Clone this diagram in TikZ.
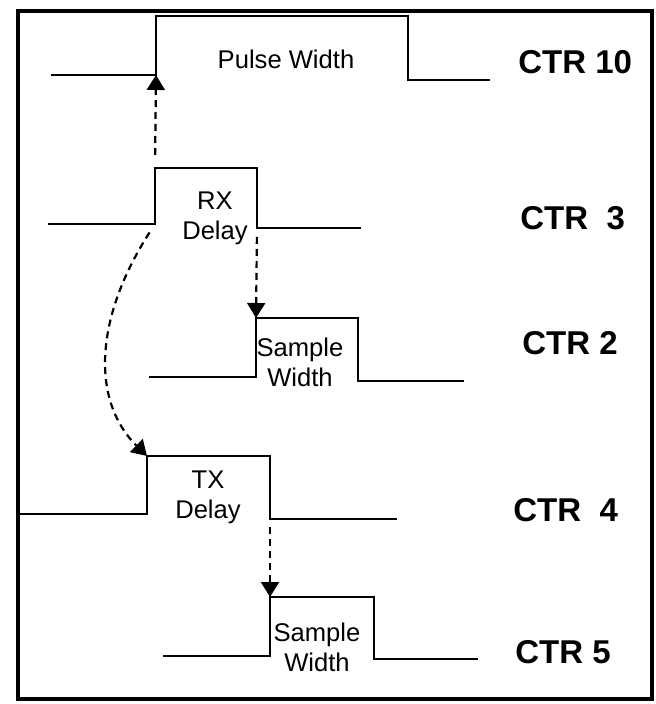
\documentclass[tikz,border=0pt]{standalone}
\usepackage{fontspec}
\setmainfont{Liberation Sans}
\usetikzlibrary{arrows.meta}
\tikzset{
  frame/.style={line width=1.6pt},
  wave/.style={line width=1.2pt, line join=miter},
  tag/.style={font=\bfseries\fontsize{16.5}{19}\selectfont, anchor=west, inner sep=0pt},
  lbl/.style={font=\fontsize{12.8}{15}\selectfont, align=center, inner sep=0pt},
  dasharrow/.style={-{Triangle[length=7.5pt,width=9pt]}, line width=1.1pt, dash pattern=on 3.5pt off 2.5pt}
}

\begin{document}
\begin{tikzpicture}[x=0.5pt, y=-0.5pt]
  \useasboundingbox (0,0) rectangle (656,704);
  \draw[frame] (18,11) rectangle (652,699);

  % waveforms
  \draw[wave] (51,75) -- (156,75) -- (156,16) -- (408,16) -- (408,80) -- (490,80);
  \draw[wave] (48,224) -- (155,224) -- (155,168) -- (257,168) -- (257,228) -- (361,228);
  \draw[wave] (149,377) -- (256,377) -- (256,318) -- (358,318) -- (358,381) -- (464,381);
  \draw[wave] (19,514) -- (147,514) -- (147,456) -- (270,456) -- (270,519) -- (397,519);
  \draw[wave] (163,656) -- (270,656) -- (270,597) -- (374,597) -- (374,659) -- (478,659);

  % edges
  \coordinate (r10) at (156,75);
  \coordinate (r3) at (155,168);
  \coordinate (r3foot) at (155,224);
  \coordinate (f3) at (257,228);
  \coordinate (r2) at (256,318);
  \coordinate (r4) at (147,456);
  \coordinate (f4) at (270,519);
  \coordinate (r5) at (270,597);

  % pulse labels
  \node[lbl] (pw) at (286,59) {Pulse Width};
  \node[lbl] (rxd) at (215,218) {RX\\Delay};
  \node[lbl] (sw2) at (300,362) {Sample\\Width};
  \node[lbl] (txd) at (208,497) {TX\\Delay};
  \node[lbl] (sw5) at (317,647) {Sample\\Width};

  % counters
  \node[tag] (ctr10) at (518,62) {CTR 10};
  \node[tag] (ctr3) at (520,218) {CTR\ \ 3};
  \node[tag] (ctr2) at (522,343) {CTR 2};
  \node[tag] (ctr4) at (513,510) {CTR\ \ 4};
  \node[tag] (ctr5) at (515,652) {CTR 5};

  % timing arrows
  \draw[dasharrow, shorten <=6.5pt] (r3) -- (r10);
  \draw[dasharrow, shorten <=4.5pt] (f3) -- (r2);
  \draw[dasharrow, shorten <=5pt] (r3foot) .. controls (92,322) and (93,403) .. (r4);
  \draw[dasharrow, shorten <=4pt] (f4) -- (r5);
\end{tikzpicture}
\end{document}
